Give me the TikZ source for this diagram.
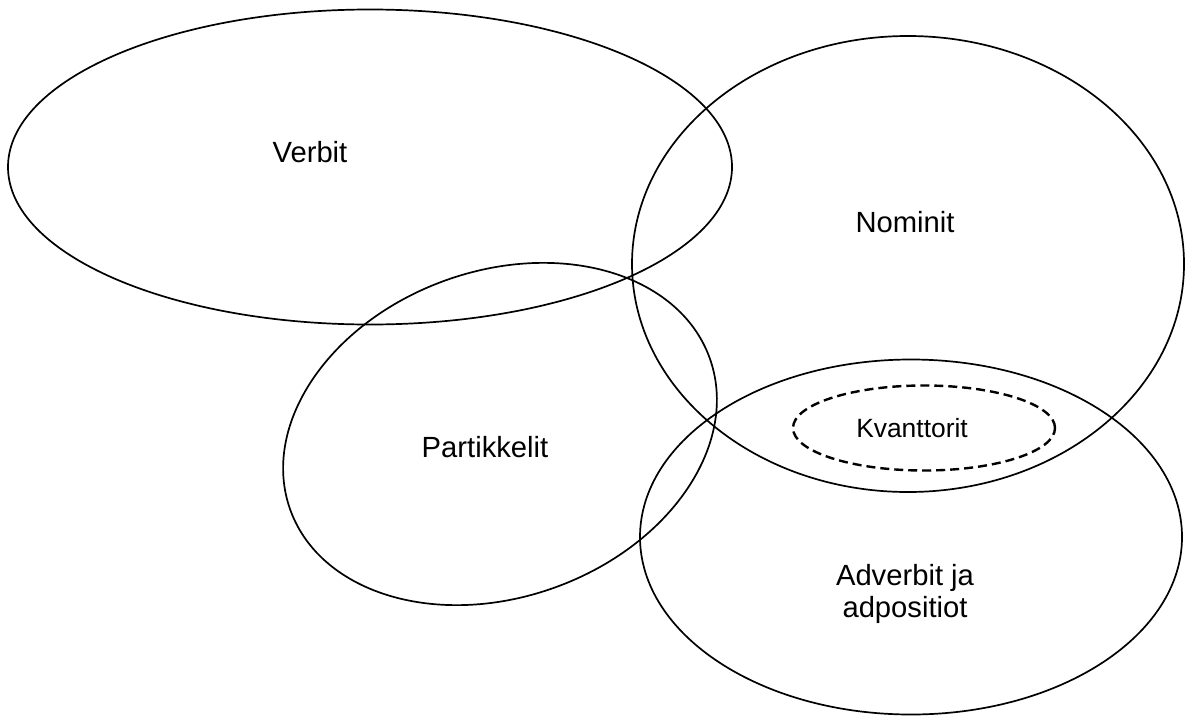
\documentclass[tikz,border=0pt]{standalone}
\usepackage{fontspec}
\setmainfont{Liberation Sans}
\usetikzlibrary{shapes.geometric}
\tikzset{
  wset/.style   = {ellipse, draw, line width=0.85pt, inner sep=0pt, outer sep=0pt},
  wsub/.style   = {wset, dashed, dash pattern=on 4.5pt off 2.5pt, line width=1.2pt},
  wlabel/.style = {font=\fontsize{14.6}{16}\selectfont, align=center},
  wlabelS/.style = {font=\fontsize{13.2}{15}\selectfont},
}
\begin{document}
\begin{tikzpicture}[x=0.5pt, y=-0.5pt]

    \useasboundingbox (0,0) rectangle (1186,717);

    %% Word class sets
    \node[wset, minimum width=362pt, minimum height=157.5pt] (verb) at (370, 167) {};
    \node[wset, minimum width=276pt, minimum height=228pt]   (nom)  at (908, 264) {};
    \node[wset, minimum width=223pt, minimum height=163pt, rotate=20] (part) at (500, 434) {};
    \node[wset, minimum width=271pt, minimum height=177.5pt] (adv)  at (911, 537) {};
    \node[wsub, minimum width=131pt, minimum height=42.5pt]  (kvant) at (924, 428) {};

    %% Labels
    \node[wlabel]  (verbL)  at (310, 152) {Verbit};
    \node[wlabel]  (nomL)   at (905, 222) {Nominit};
    \node[wlabel]  (partL)  at (485, 447) {Partikkelit};
    \node[wlabel]  (advL)   at (905, 594) {Adverbit ja\\adpositiot};
    \node[wlabelS] (kvantL) at (912, 428) {Kvanttorit};

\end{tikzpicture}
\end{document}
